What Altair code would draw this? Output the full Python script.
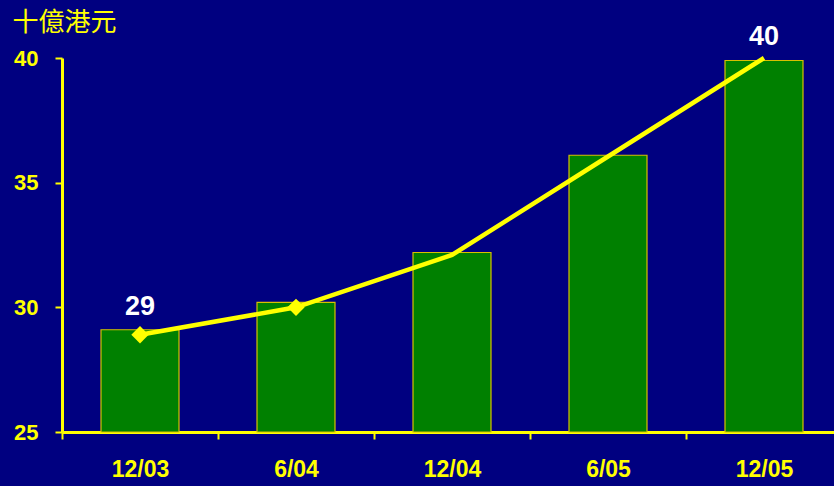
import altair as alt
import pandas as pd

periods = ["12/03", "6/04", "12/04", "6/05", "12/05"]
bar_values = [29.1, 30.2, 32.2, 36.1, 39.9]
line_values = [28.9, 30.0, 32.1, 36.05, 40.0]
show_marker = [True, True, False, False, False]
bar_labels = ["29", "", "", "", "40"]
axis_floor = 25

df = pd.DataFrame({
    "period": periods,
    "bar": bar_values,
    "line": line_values,
    "marker": show_marker,
    "label": bar_labels,
})

YELLOW = "#FFFF00"
FONT = "Liberation Sans"

x_enc = alt.X(
    "period:N",
    sort=periods,
    scale=alt.Scale(range=[0, 780], paddingInner=0, paddingOuter=0),
    axis=alt.Axis(
        title=None, labelAngle=0, tickBand="extent", tickSize=7, tickWidth=2,
        domainWidth=3, labelPadding=19, labelFontSize=23,
    ),
)
y_scale = alt.Scale(domain=[25, 40], zero=False, nice=False)

bars = alt.Chart(df).mark_bar(
    color="#008000", stroke="#D8C000", strokeWidth=1.2, width=alt.RelativeBandSize(0.5)
).encode(
    x=x_enc,
    y=alt.Y(
        "bar:Q", scale=y_scale,
        axis=alt.Axis(
            values=[25, 30, 35, 40], tickSize=7, tickWidth=2, domainWidth=3,
            labelPadding=17, labelFontSize=22, grid=False,
            title="十億港元", titleAngle=0, titleX=-50, titleY=-36,
            titleAlign="left", titleBaseline="middle",
            titleFont="Noto Sans CJK TC", titleFontSize=26, titleFontWeight="normal",
            titleColor=YELLOW,
        ),
    ),
    y2=alt.Y2(datum=axis_floor),
)

line = alt.Chart(df).mark_line(color=YELLOW, strokeWidth=4.5).encode(
    x=alt.X("period:N", sort=periods),
    y=alt.Y("line:Q", scale=y_scale),
)

points = alt.Chart(df).transform_filter("datum.marker").mark_point(
    shape="diamond", filled=True, color=YELLOW, size=300, opacity=1
).encode(
    x=alt.X("period:N", sort=periods),
    y=alt.Y("line:Q", scale=y_scale),
)

labels = alt.Chart(df).transform_filter("datum.label != ''").mark_text(
    color="white", font=FONT, fontWeight="bold", fontSize=27, dy=-23, baseline="middle"
).encode(
    x=alt.X("period:N", sort=periods),
    y=alt.Y("bar:Q", scale=y_scale),
    text="label:N",
)

chart = alt.layer(bars, line, points, labels).properties(
    width=772, height=374,
    autosize=alt.AutoSizeParams(type="none"),
    padding={"left": 62, "top": 58, "right": 0, "bottom": 54},
    background="#000080",
).configure_view(stroke=None).configure_axis(
    domainColor=YELLOW, tickColor=YELLOW, labelColor=YELLOW,
    labelFont=FONT, labelFontWeight="bold",
)

chart.save("out.html", embed_options={"renderer": "svg", "actions": False})
